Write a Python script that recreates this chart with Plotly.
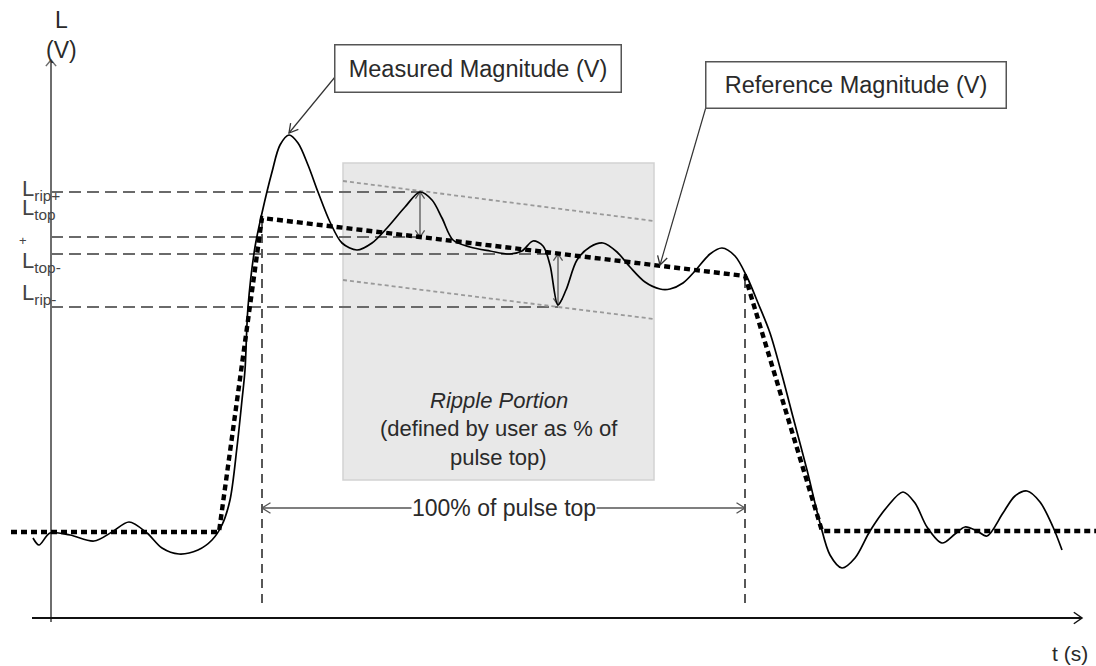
import math
import plotly.graph_objects as go

FONT = "Liberation Sans, Arial, sans-serif"

# ---- data (t: time units from origin, L: level units above the time axis) ----
meas_t = [-18, -12, -1, 19, 43, 61, 78, 96, 111, 128, 147, 161, 171, 179, 186, 191, 194, 197,
          204, 211, 221, 229, 238, 247, 257, 267, 279, 291, 306, 321, 336, 354, 369, 381, 391,
          402, 419, 439, 459, 471, 482, 492, 499, 507, 515, 526, 539, 552, 566, 579, 594, 609,
          619, 632, 644, 659, 671, 684, 696, 707, 719, 731, 742, 756, 769, 779, 791, 804, 819,
          836, 852, 864, 876, 891, 904, 914, 926, 936, 952, 964, 976, 989, 1002, 1011]
meas_L = [80, 73, 85, 83, 77, 86, 96, 85, 70, 64, 68, 78, 93, 118, 171, 218, 248, 311,
          371, 405, 446, 473, 483, 475, 453, 426, 396, 375, 368, 375, 390, 411, 426, 418, 400,
          378, 371, 367, 364, 367, 377, 372, 353, 313, 328, 358, 371, 375, 366, 351, 336, 329,
          329, 335, 347, 364, 370, 362, 341, 315, 285, 243, 201, 148, 95, 63, 50, 60, 87,
          111, 126, 115, 91, 75, 84, 91, 87, 82, 105, 122, 127, 116, 91, 68]

ref_t = [-40, 168, 211, 694, 771, 1045]
ref_L = [86, 86, 400, 342, 87, 87]

ripple_t = [292, 603]          # ripple portion start / end
ripple_hi = [437, 397]         # upper ripple envelope
ripple_lo = [338, 299]         # lower ripple envelope
ripple_box_L = [138, 455]

level_names = ["L<sub>rip+</sub>", "L<sub>top</sub>", "L<sub>top-</sub>", "L<sub>rip-</sub>"]
level_vals = [426, 381, 364, 311]      # L_rip+, L_top+, L_top-, L_rip-
level_ends = [369, 369, 507, 507]

top_start, top_end = 211, 694          # 100 % of pulse top
top_arrow_L = 110
axis_top, axis_right, axis_left = 558, 1031, -19

fig = go.Figure()


def line(xs, ys, color="black", width=1.5, dash="solid"):
    fig.add_trace(go.Scatter(x=xs, y=ys, mode="lines", hoverinfo="skip",
                             line=dict(color=color, width=width, dash=dash)))


def head(tip, frm, color, size=9, ang=32, width=1.3):
    dx, dy = tip[0] - frm[0], tip[1] - frm[1]
    n = math.hypot(dx, dy)
    dx, dy = dx / n, dy / n
    pts = []
    for s in (1, -1):
        a = math.radians(ang) * s
        rx = dx * math.cos(a) - dy * math.sin(a)
        ry = dx * math.sin(a) + dy * math.cos(a)
        pts.append((tip[0] - size * rx, tip[1] - size * ry))
    line([pts[0][0], tip[0], pts[1][0]], [pts[0][1], tip[1], pts[1][1]], color, width)


# ripple portion box
fig.add_shape(type="rect", x0=ripple_t[0], x1=ripple_t[1], y0=ripple_box_L[0], y1=ripple_box_L[1],
              fillcolor="#e8e8e8", line=dict(color="#d2d2d2", width=1.5), layer="below")

# axes
line([0, 0], [-4, axis_top], "#6e6e6e", 2)
head((0, axis_top), (0, 0), "#6e6e6e", size=8, ang=40, width=1.5)
line([axis_left, axis_right], [0, 0], "#111111", 2)
head((axis_right, 0), (0, 0), "#111111", size=10, ang=35, width=1.5)

# horizontal level lines
for v, e in zip(level_vals, level_ends):
    line([0, e], [v, v], "#6a6a6a", 1.8, "12px,6px")

# ripple envelopes
line(ripple_t, ripple_hi, "#9a9a9a", 1.8, "4px,3px")
line(ripple_t, ripple_lo, "#9a9a9a", 1.8, "4px,3px")

# vertical dashed markers
line([top_start, top_start], [15, ref_L[2]], "#111111", 1.4, "9px,6px")
line([top_end, top_end], [15, ref_L[3]], "#111111", 1.4, "9px,6px")

# ripple arrows
for t, a, b in [(level_ends[0], level_vals[0], level_vals[1]), (level_ends[2], level_vals[2], 313)]:
    line([t, t], [a, b], "#555555", 1.3)
    head((t, a), (t, b), "#555555", size=8, ang=35)
    head((t, b), (t, a), "#555555", size=8, ang=35)

# 100% of pulse top arrow
line([top_start, top_end], [top_arrow_L, top_arrow_L], "#555555", 1.3)
head((top_start, top_arrow_L), (top_end, top_arrow_L), "#555555", size=10, ang=32)
head((top_end, top_arrow_L), (top_start, top_arrow_L), "#555555", size=10, ang=32)

# measured waveform
fig.add_trace(go.Scatter(x=meas_t, y=meas_L, mode="lines", hoverinfo="skip",
                         line=dict(color="black", width=1.7, shape="spline", smoothing=0.9)))
# reference waveform
line(ref_t, ref_L, "black", 4.4, "6px,4px")

# callout arrows
line([284, 238], [541, 485], "#333333", 1.2)
head((238, 485), (284, 541), "#333333", size=10, ang=30)
line([655, 609], [511, 353], "#333333", 1.2)
head((609, 353), (655, 511), "#333333", size=10, ang=30)

ann = []
txt = dict(family=FONT, color="#2a2a2a")
ann.append(dict(x=426.5, y=550, text="Measured Magnitude (V)", width=285, height=46, borderpad=0,
                bordercolor="#555555", borderwidth=1.5, bgcolor="white", font=dict(size=23.5, **txt)))
ann.append(dict(x=804.5, y=533.5, text="Reference Magnitude (V)", width=299, height=45, borderpad=0,
                bordercolor="#555555", borderwidth=1.5, bgcolor="white", font=dict(size=23.5, **txt)))
ann.append(dict(x=(top_start + top_end) / 2, y=top_arrow_L, text="100% of pulse top", bgcolor="white",
                borderpad=0, font=dict(size=23, **txt)))
ann.append(dict(x=447.5, y=218, text="<i>Ripple Portion</i>", font=dict(size=22, **txt)))
ann.append(dict(x=447.5, y=190, text="(defined by user as % of", font=dict(size=22, **txt)))
ann.append(dict(x=447.5, y=161, text="pulse top)", font=dict(size=22, **txt)))
ann.append(dict(x=10, y=598, text="L", font=dict(size=23, **txt)))
ann.append(dict(x=10, y=568, text="(V)", font=dict(size=23, **txt)))
ann.append(dict(x=1019, y=-35, text="t (s)", font=dict(size=21, **txt)))

lab = dict(family=FONT, color="#444444", size=22)
ann.append(dict(x=-31, y=428, text=level_names[0], xanchor="left", font=lab))
ann.append(dict(x=-31, y=409, text=level_names[1], xanchor="left", font=lab))
ann.append(dict(x=-28, y=378, text="+", font=dict(family=FONT, color="#444444", size=13)))
ann.append(dict(x=-31, y=356, text=level_names[2], xanchor="left", font=lab))
ann.append(dict(x=-31, y=324, text=level_names[3], xanchor="left", font=lab))

for a in ann:
    a.setdefault("showarrow", False)
    a.setdefault("xref", "x")
    a.setdefault("yref", "y")
fig.update_layout(annotations=ann)

fig.update_layout(
    width=1096, height=666, margin=dict(l=0, r=0, t=0, b=0),
    paper_bgcolor="white", plot_bgcolor="white", showlegend=False, hovermode=False,
    xaxis=dict(range=[-51, 1045], visible=False, fixedrange=True),
    yaxis=dict(range=[-48, 618], visible=False, fixedrange=True),
)

fig.write_html("out.html", config={"displayModeBar": False, "staticPlot": True},
               post_script="document.body.style.margin='0px';document.body.style.overflow='hidden';")
